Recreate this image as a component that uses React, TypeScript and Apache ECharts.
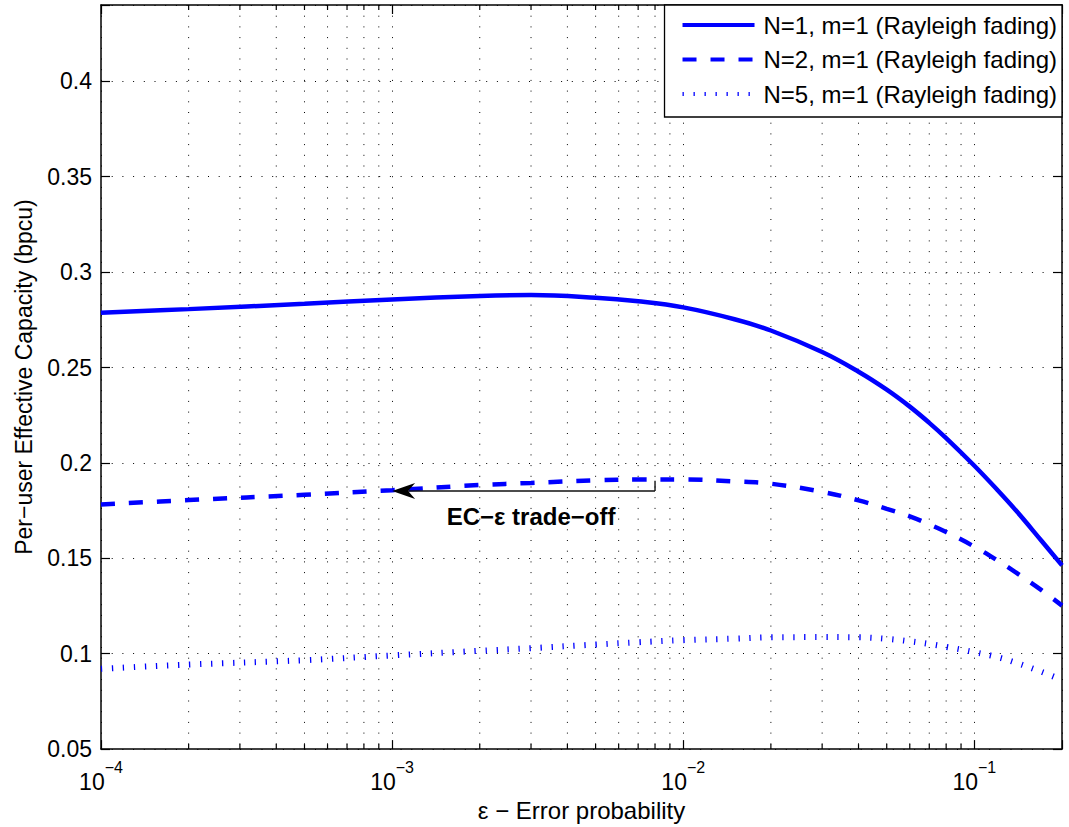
import React, { useEffect, useRef } from "react";
import * as echarts from "echarts";

// Error probability (x) and per-user effective capacity (bpcu) per curve
const errorProb = [
  1e-4, 2e-4, 5e-4, 1e-3, 2e-3, 3e-3, 5e-3, 7e-3, 1e-2, 1.5e-2, 2e-2,
  3e-2, 4e-2, 5e-2, 6e-2, 7e-2, 8e-2, 1e-1, 1.2e-1, 1.4e-1, 1.7e-1, 2e-1,
];
const capN1 = [
  0.2787, 0.2806, 0.2834, 0.2857, 0.2875, 0.288, 0.2866, 0.2847, 0.2815, 0.2753, 0.2694,
  0.2581, 0.2478, 0.2384, 0.2295, 0.221, 0.213, 0.1985, 0.1858, 0.1745, 0.1592, 0.1463,
];
const capN2 = [
  0.1782, 0.1805, 0.1833, 0.1857, 0.1884, 0.1895, 0.1909, 0.1913, 0.1913, 0.1903, 0.1891,
  0.1848, 0.1804, 0.1759, 0.172, 0.1678, 0.1638, 0.1561, 0.1489, 0.1422, 0.1333, 0.1252,
];
const capN5 = [
  0.0921, 0.0943, 0.0966, 0.0991, 0.1015, 0.1029, 0.1048, 0.106, 0.1071, 0.1079, 0.1086,
  0.1087, 0.1086, 0.1078, 0.1065, 0.1051, 0.1036, 0.1008, 0.0982, 0.0951, 0.0905, 0.0862,
];

const seriesNames = [
  "N=1, m=1 (Rayleigh fading)",
  "N=2, m=1 (Rayleigh fading)",
  "N=5, m=1 (Rayleigh fading)",
];

const X_MIN = 1e-4;
const X_MAX = 0.2;
const Y_MIN = 0.05;
const Y_MAX = 0.44;
const Y_STEP = 0.05;

// Trade-off annotation anchors (data coordinates)
const ARROW_TIP = [1e-3, 0.1853];
const ARROW_TAIL = [8e-3, 0.1853];
const ARROW_HOOK = [8e-3, 0.1906];
const NOTE_POS = [3e-3, 0.172];
const NOTE_TEXT = "EC\u2212\u03b5 trade\u2212off";

const FONT = "'Liberation Sans', Arial, Helvetica, sans-serif";
const BLUE = "#0000ff";

// minor decade positions 2..9 x 10^k for the log axis
const minorTicks: number[] = [];
for (let k = -4; k <= -1; k++) {
  for (let m = 2; m <= 9; m++) {
    const v = m * Math.pow(10, k);
    if (v < X_MAX * 0.999) minorTicks.push(v);
  }
}

const pairs = (ys: number[]) => errorProb.map((x, i) => [x, ys[i]]);

const dotted: any = [1, 9.7];

export default function App() {
  const ref = useRef<HTMLDivElement>(null);

  useEffect(() => {
    if (!ref.current) return;
    const chart = echarts.init(ref.current, null, { renderer: "svg" });

    const axisLine = { show: true, lineStyle: { color: "#000", width: 1.5 } };
    const tick = { show: true, inside: true, length: 9, lineStyle: { color: "#000", width: 1.2 } };

    const option: any = {
      animation: false,
      backgroundColor: "#fff",
      textStyle: { fontFamily: FONT },
      grid: { left: 101, right: 7, top: 5, bottom: 75, containLabel: false },
      legend: {
        orient: "vertical",
        right: 7,
        top: 5,
        backgroundColor: "#fff",
        borderColor: "#000",
        borderWidth: 1.3,
        borderRadius: 0,
        padding: [8, 5, 11, 16],
        itemWidth: 72,
        itemHeight: 24,
        itemGap: 10.5,
        data: seriesNames,
        itemStyle: { opacity: 0 },
        lineStyle: { width: 4 },
        textStyle: { fontSize: 24, color: "#000", fontFamily: FONT, padding: [0, 0, 0, 4] },
      },
      xAxis: [
        {
          type: "log",
          logBase: 10,
          min: X_MIN,
          max: X_MAX,
          position: "bottom",
          axisLine,
          axisTick: tick,
          splitLine: { show: true, lineStyle: { color: "#000", width: 1, type: dotted } },
          axisLabel: {
            margin: 10,
            formatter: (v: number) => {
              const e = Math.log10(v);
              const r = Math.round(e);
              if (Math.abs(e - r) > 1e-6) return "";
              return `{b|10}{s|${r < 0 ? "\u2212" : ""}${Math.abs(r)}}`;
            },
            rich: {
              b: { fontSize: 23, color: "#000", fontFamily: FONT, lineHeight: 34, verticalAlign: "bottom" },
              s: { fontSize: 16, color: "#000", fontFamily: FONT, lineHeight: 16, verticalAlign: "top" },
            },
          },
          name: "\u03b5 \u2212 Error probability",
          nameLocation: "middle",
          nameGap: 46,
          nameTextStyle: { fontSize: 24, color: "#000", fontFamily: FONT },
        },
        {
          type: "log",
          logBase: 10,
          min: X_MIN,
          max: X_MAX,
          position: "top",
          axisLine,
          axisTick: tick,
          axisLabel: { show: false },
          splitLine: { show: false },
        },
      ],
      yAxis: [
        {
          type: "value",
          min: Y_MIN,
          max: Y_MAX,
          interval: Y_STEP,
          position: "left",
          axisLine,
          axisTick: tick,
          splitLine: { show: true, lineStyle: { color: "#000", width: 1, type: dotted } },
          axisLabel: {
            fontSize: 23,
            color: "#000",
            fontFamily: FONT,
            margin: 9,
            formatter: (v: number) => (v > Y_MAX - 0.01 ? "" : String(+v.toFixed(2))),
          },
          name: "Per\u2212user Effective Capacity (bpcu)",
          nameLocation: "middle",
          nameGap: 66,
          nameTextStyle: { fontSize: 23, color: "#000", fontFamily: FONT },
        },
        {
          type: "value",
          min: Y_MIN,
          max: Y_MAX,
          interval: Y_STEP,
          position: "right",
          axisLine,
          axisTick: tick,
          axisLabel: { show: false },
          splitLine: { show: false },
        },
      ],
      series: [
        {
          type: "custom",
          name: "minor-grid",
          xAxisIndex: 0,
          yAxisIndex: 0,
          z: 1,
          silent: true,
          data: minorTicks.map((v) => [v, Y_MIN]),
          renderItem: (params: any, api: any) => {
            const cs = params.coordSys;
            const x = api.coord([api.value(0), Y_MIN])[0];
            const top = cs.y;
            const bottom = cs.y + cs.height;
            return {
              type: "group",
              children: [
                { type: "line", shape: { x1: x, y1: top, x2: x, y2: bottom }, style: { stroke: "#000", lineWidth: 1, lineDash: dotted } },
                { type: "line", shape: { x1: x, y1: bottom, x2: x, y2: bottom - 5 }, style: { stroke: "#000", lineWidth: 1.2 } },
                { type: "line", shape: { x1: x, y1: top, x2: x, y2: top + 5 }, style: { stroke: "#000", lineWidth: 1.2 } },
              ],
            };
          },
        },
        {
          name: seriesNames[0],
          type: "line",
          data: pairs(capN1),
          symbol: "none",
          smooth: 0.4,
          z: 3,
          lineStyle: { color: BLUE, width: 4.5, type: "solid" },
          itemStyle: { color: BLUE },
        },
        {
          name: seriesNames[1],
          type: "line",
          data: pairs(capN2),
          symbol: "none",
          smooth: 0.4,
          z: 3,
          lineStyle: { color: BLUE, width: 4.5, type: [14, 14] },
          itemStyle: { color: BLUE },
        },
        {
          name: seriesNames[2],
          type: "line",
          data: pairs(capN5),
          symbol: "none",
          smooth: 0.4,
          z: 3,
          lineStyle: { color: BLUE, width: 6, type: [1.3, 9.7] },
          itemStyle: { color: BLUE },
        },
      ],
    };

    chart.setOption(option);

    const px = (p: number[]) => chart.convertToPixel({ gridIndex: 0 }, p) as number[];
    const tip = px(ARROW_TIP);
    const tail = px(ARROW_TAIL);
    const hook = px(ARROW_HOOK);
    const note = px(NOTE_POS);

    chart.setOption({
      graphic: [
        {
          type: "line",
          z: 10,
          shape: { x1: tip[0] + 16, y1: tip[1], x2: tail[0], y2: tail[1] },
          style: { stroke: "#111", lineWidth: 1.4 },
        },
        {
          type: "line",
          z: 10,
          shape: { x1: tail[0], y1: tail[1], x2: hook[0], y2: hook[1] },
          style: { stroke: "#111", lineWidth: 1.4 },
        },
        {
          type: "polygon",
          z: 10,
          shape: {
            points: [
              [tip[0], tip[1]],
              [tip[0] + 23, tip[1] - 8],
              [tip[0] + 16, tip[1]],
              [tip[0] + 23, tip[1] + 8],
            ],
          },
          style: { fill: "#000" },
        },
        {
          type: "text",
          z: 10,
          x: note[0],
          y: note[1],
          style: {
            text: NOTE_TEXT,
            font: `bold 24px ${FONT}`,
            fill: "#000",
            textAlign: "center",
            textVerticalAlign: "middle",
            align: "center",
            verticalAlign: "middle",
          },
        },
      ],
    });

    return () => chart.dispose();
  }, []);

  return (
    <div
      ref={ref}
      style={{ position: "fixed", left: 0, top: 0, width: 1069, height: 827, background: "#fff" }}
    />
  );
}
